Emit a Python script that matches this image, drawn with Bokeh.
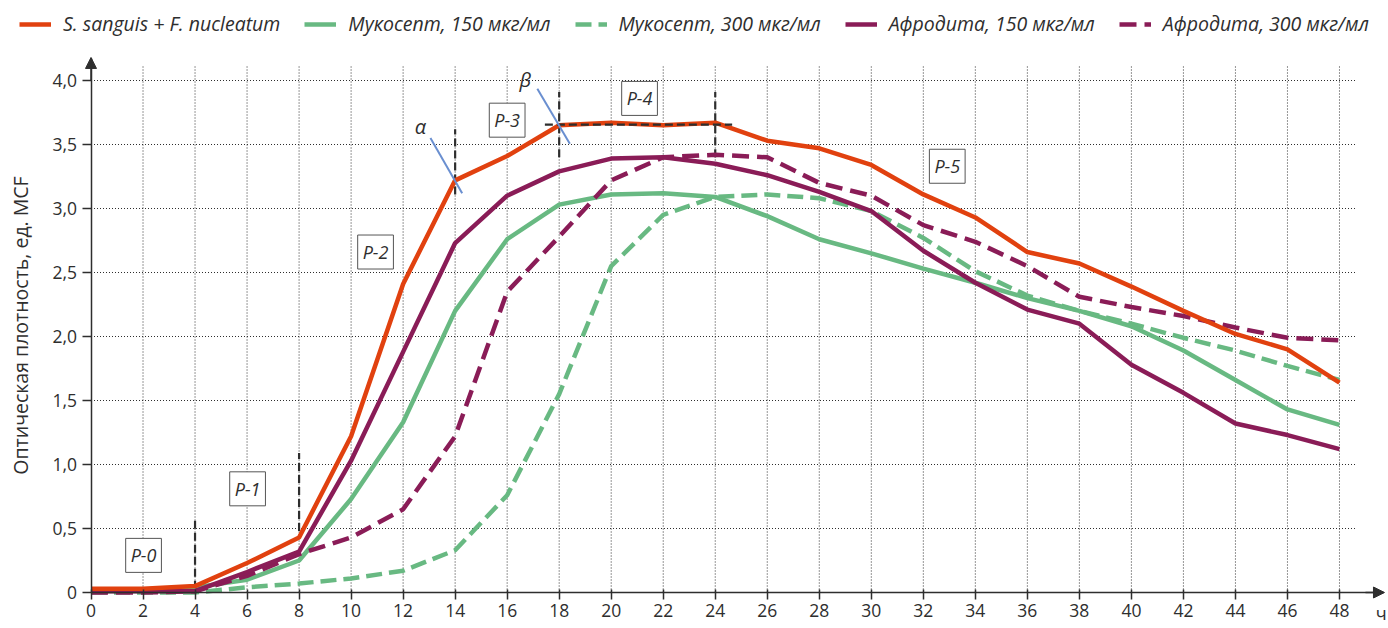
from bokeh.plotting import figure
from bokeh.models import (Range1d, FixedTicker, Legend, LegendItem, Label,
                          Arrow, NormalHead)
from bokeh.embed import file_html
from bokeh.resources import INLINE

# ---------------- data ----------------
hours = [0, 2, 4, 6, 8, 10, 12, 14, 16, 18, 20, 22, 24, 26, 28, 30, 32, 34, 36, 38, 40, 42, 44, 46, 48]
ss_fn = [0.03, 0.03, 0.05, 0.23, 0.43, 1.22, 2.41, 3.22, 3.41, 3.65, 3.67, 3.65, 3.67,
         3.53, 3.47, 3.34, 3.11, 2.93, 2.66, 2.57, 2.39, 2.20, 2.02, 1.90, 1.64]
muk150 = [0.02, 0.02, 0.04, 0.10, 0.25, 0.73, 1.33, 2.20, 2.76, 3.03, 3.11, 3.12, 3.09,
          2.94, 2.76, 2.65, 2.53, 2.42, 2.30, 2.20, 2.08, 1.89, 1.66, 1.43, 1.31]
muk300 = [0.0, 0.0, 0.0, 0.04, 0.07, 0.11, 0.17, 0.33, 0.76, 1.55, 2.55, 2.95, 3.09,
          3.11, 3.08, 2.98, 2.77, 2.51, 2.32, 2.20, 2.10, 1.99, 1.89, 1.77, 1.66]
afr150 = [0.01, 0.01, 0.01, 0.16, 0.32, 1.03, 1.88, 2.73, 3.10, 3.29, 3.39, 3.40, 3.35,
          3.26, 3.13, 2.98, 2.67, 2.42, 2.21, 2.10, 1.78, 1.56, 1.32, 1.23, 1.12]
afr300 = [0.0, 0.0, 0.01, 0.13, 0.30, 0.43, 0.65, 1.22, 2.35, 2.78, 3.22, 3.40, 3.42,
          3.40, 3.20, 3.10, 2.87, 2.74, 2.55, 2.31, 2.23, 2.16, 2.07, 1.99, 1.97]

series_names = ["S. sanguis + F. nucleatum", "Мукосепт, 150 мкг/мл", "Мукосепт, 300 мкг/мл",
                "Афродита, 150 мкг/мл", "Афродита, 300 мкг/мл"]
y_ticks = [0, 0.5, 1.0, 1.5, 2.0, 2.5, 3.0, 3.5, 4.0]
y_tick_labels = ["0", "0,5", "1,0", "1,5", "2,0", "2,5", "3,0", "3,5", "4,0"]
x_unit = "ч"
y_title = "Оптическая плотность, ед. MCF"

# phase annotations
phase_names = ["P-0", "P-1", "P-2", "P-3", "P-4", "P-5"]
phase_x = [2.02, 6.02, 10.94, 16.0, 21.09, 32.92]
phase_y = [0.29, 0.81, 2.66, 3.69, 3.86, 3.33]
vline_x = [4, 8, 14, 18, 24]
vline_y0 = [0.03, 0.48, 3.11, 3.40, 3.40]
vline_y1 = [0.56, 1.09, 3.62, 3.91, 3.91]
plateau_y = 3.655
plateau_x = (17.45, 24.65)
tan_x0 = [13.05, 17.16]
tan_y0 = [3.55, 3.935]
tan_x1 = [14.27, 18.41]
tan_y1 = [3.12, 3.505]
angle_names = ["α", "β"]
angle_x = [12.67, 16.70]
angle_y = [3.64, 4.01]

# ---------------- style ----------------
RED = "#e1410f"
GREEN = "#68b982"
PURPLE = "#8a1c57"
INK = "#2e2e2e"
FONT = "Open Sans"

W, H = 1388, 628
PX_X = 26.01   # pixels per hour
PX_Y = 128.0   # pixels per unit
X0_PX, Y0_PX = 90.5, 592.0
x_start = -X0_PX / PX_X
y_start = -(H - Y0_PX) / PX_Y

p = figure(width=W, height=H,
           x_range=Range1d(x_start, x_start + W / PX_X),
           y_range=Range1d(y_start, y_start + H / PX_Y),
           output_backend="svg", toolbar_location=None,
           min_border_left=0, min_border_right=0, min_border_top=0, min_border_bottom=0)
p.outline_line_color = None
p.xgrid.visible = False
p.ygrid.visible = False

# dotted grid
p.segment(x0=hours[1:], y0=[0] * (len(hours) - 1), x1=hours[1:], y1=[4.12] * (len(hours) - 1),
          line_color=INK, line_width=1, line_dash="1 2")
p.segment(x0=[0] * (len(y_ticks) - 1), y0=y_ticks[1:], x1=[48.6] * (len(y_ticks) - 1), y1=y_ticks[1:],
          line_color=INK, line_width=1, line_dash="1 2")

# axes (fixed at the data origin)
for ax in (p.xaxis, p.yaxis):
    ax.fixed_location = 0
    ax.axis_line_color = INK
    ax.axis_line_width = 1.5
    ax.major_tick_line_color = INK
    ax.major_tick_line_width = 1.5
    ax.minor_tick_line_color = None
    ax.major_label_text_font = FONT
    ax.major_label_text_font_size = "17.5px"
    ax.major_label_text_color = INK
p.xaxis.bounds = (0, 49.7)
p.xaxis.ticker = FixedTicker(ticks=hours)
p.xaxis.major_tick_out = 7
p.xaxis.major_tick_in = 3
p.xaxis.major_label_standoff = 4
p.yaxis.bounds = (0, 4.17)
p.yaxis.ticker = FixedTicker(ticks=y_ticks)
p.yaxis.major_label_overrides = {t: l for t, l in zip(y_ticks, y_tick_labels)}
p.yaxis.major_tick_out = 9
p.yaxis.major_tick_in = 0
p.yaxis.major_label_standoff = 5
p.yaxis.axis_label = y_title
p.yaxis.axis_label_text_font = FONT
p.yaxis.axis_label_text_font_size = "19.5px"
p.yaxis.axis_label_text_font_style = "normal"
p.yaxis.axis_label_text_color = INK
p.yaxis.axis_label_standoff = 16

# axis arrows
p.add_layout(Arrow(end=NormalHead(size=11, fill_color=INK, line_color=INK),
                   x_start=49.0, y_start=0, x_end=49.73, y_end=0,
                   line_color=INK, line_width=1.5))
p.add_layout(Arrow(end=NormalHead(size=11, fill_color=INK, line_color=INK),
                   x_start=0, y_start=4.0, x_end=0, y_end=4.18,
                   line_color=INK, line_width=1.5))
p.add_layout(Label(x=49.6, y=0, y_offset=-20, text=x_unit, text_font=FONT, text_font_size="18px",
                   text_color=INK, text_align="center", text_baseline="middle"))

# phase markers
p.segment(x0=vline_x, y0=vline_y0, x1=vline_x, y1=vline_y1,
          line_color=INK, line_width=2.2, line_dash="8 4")

# data lines
r_m300 = p.line(hours, muk300, line_color=GREEN, line_width=4.5, line_dash="16 7")
r_m150 = p.line(hours, muk150, line_color=GREEN, line_width=4.5)
r_a300 = p.line(hours, afr300, line_color=PURPLE, line_width=4.5, line_dash="17 8")
r_a150 = p.line(hours, afr150, line_color=PURPLE, line_width=4.5)
r_ss = p.line(hours, ss_fn, line_color=RED, line_width=4.5)

p.segment(x0=[plateau_x[0]], y0=[plateau_y], x1=[plateau_x[1]], y1=[plateau_y],
          line_color=INK, line_width=2.2, line_dash="8 4")
p.segment(x0=tan_x0, y0=tan_y0, x1=tan_x1, y1=tan_y1, line_color="#6a8fd0", line_width=2)

for name, x, y in zip(phase_names, phase_x, phase_y):
    p.add_layout(Label(x=x, y=y, text=name, text_font=FONT, text_font_style="italic",
                       text_font_size="18px", text_color=INK, text_align="center",
                       text_baseline="middle", border_line_color="#555555", border_line_width=1,
                       background_fill_color="white", padding=5))
for name, x, y in zip(angle_names, angle_x, angle_y):
    p.add_layout(Label(x=x, y=y, text=name, text_font=FONT, text_font_style="italic",
                       text_font_size="20px", text_color=INK, text_align="center",
                       text_baseline="middle"))

legend = Legend(items=[LegendItem(label=series_names[0], renderers=[r_ss]),
                       LegendItem(label=series_names[1], renderers=[r_m150]),
                       LegendItem(label=series_names[2], renderers=[r_m300]),
                       LegendItem(label=series_names[3], renderers=[r_a150]),
                       LegendItem(label=series_names[4], renderers=[r_a300])],
                orientation="horizontal", location=(19, 591),
                label_text_font=FONT, label_text_font_style="italic", label_text_font_size="19.5px",
                label_text_color=INK, glyph_width=32, glyph_height=20, label_standoff=12,
                spacing=24, padding=0, margin=0, border_line_color=None, background_fill_alpha=0)
p.add_layout(legend)

open("out.html", "w").write(file_html(p, INLINE))
